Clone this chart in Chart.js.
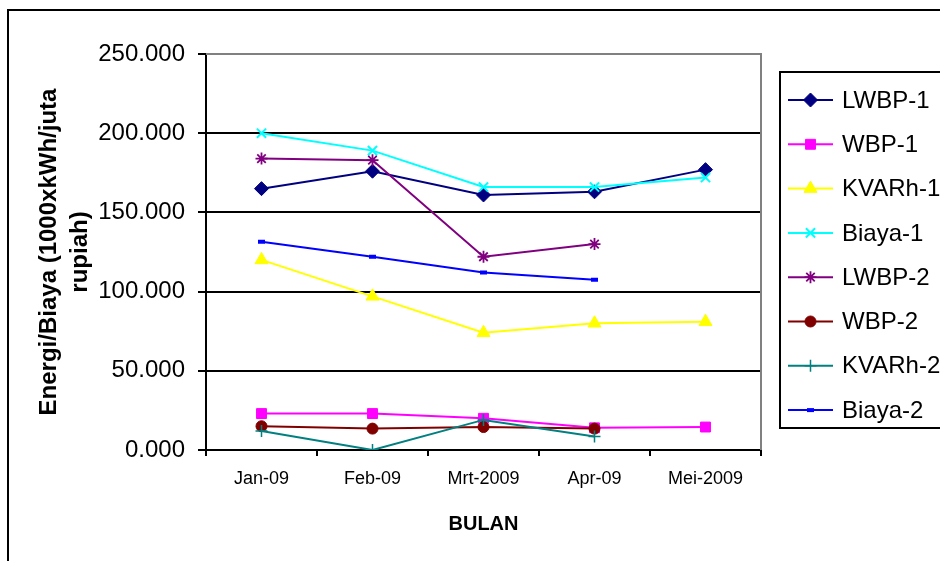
<!DOCTYPE html>
<html>
<head>
<meta charset="utf-8">
<title>Energi/Biaya per Bulan</title>
<script src="https://cdn.jsdelivr.net/npm/chart.js@4/dist/chart.umd.min.js"></script>
<style>
  html, body { margin: 0; padding: 0; background: #fff; }
  canvas { display: block; }
</style>
</head>
<body>
<canvas id="chart" width="940" height="561"></canvas>
<script>
// Months on the horizontal axis
const months = ['Jan-09', 'Feb-09', 'Mrt-2009', 'Apr-09', 'Mei-2009'];

// Series values (1000 x kWh / juta rupiah)
const lwbp1  = [165, 176, 161, 163, 177];
const wbp1   = [23, 23, 20, 14, 14.5];
const kvarh1 = [120, 97, 74, 80, 81];
const biaya1 = [200, 189, 166, 166, 172];
const lwbp2  = [184, 183, 122, 130, null];
const wbp2   = [15, 13.5, 14.5, 13.5, null];
const kvarh2 = [12, 0, 19, 8.5, null];
const biaya2 = [131.5, 122, 112, 107.5, null];

// Value axis ticks
const yTicks = [0, 50, 100, 150, 200, 250];

const FONT = "'Liberation Sans', Arial, Helvetica, sans-serif";

function series(label, data, color, style, radius, pw) {
  return {
    label, data,
    borderColor: color,
    backgroundColor: color,
    borderWidth: 2,
    tension: 0,
    pointStyle: style,
    pointRadius: radius,
    pointHoverRadius: radius,
    pointBackgroundColor: color,
    pointBorderColor: color,
    pointBorderWidth: pw
  };
}

const datasets = [
  series('LWBP-1',  lwbp1,  '#000080', 'rectRot',  7,   1),
  series('WBP-1',   wbp1,   '#FF00FF', 'rect',     7,   1),
  series('KVARh-1', kvarh1, '#FFFF00', 'triangle', 7.5, 1),
  series('Biaya-1', biaya1, '#00FFFF', 'crossRot', 6.5, 2),
  series('LWBP-2',  lwbp2,  '#800080', 'star',     6,   1.8),
  series('WBP-2',   wbp2,   '#800000', 'circle',   5.5, 1),
  series('KVARh-2', kvarh2, '#008080', 'cross',    6,   1.5),
  series('Biaya-2', biaya2, '#0000FF', 'line',     3.5, 4)
];
// later series are painted over earlier ones
datasets.forEach((d, i) => { d.order = datasets.length - 1 - i; });

// Outer frame, plot frame and the boxed legend
const decorations = {
  id: 'decorations',
  beforeDraw(chart) {
    const ctx = chart.ctx;
    ctx.save();
    ctx.fillStyle = '#fff';
    ctx.fillRect(0, 0, chart.width, chart.height);
    ctx.strokeStyle = '#000';
    ctx.lineWidth = 2;
    ctx.beginPath();
    ctx.moveTo(8, chart.height + 2);
    ctx.lineTo(8, 10);
    ctx.lineTo(chart.width + 2, 10);
    ctx.stroke();
    ctx.restore();
  },
  beforeDatasetsDraw(chart) {
    const { ctx, chartArea: a } = chart;
    ctx.save();
    ctx.strokeStyle = '#808080';
    ctx.lineWidth = 2;
    ctx.beginPath();
    ctx.moveTo(a.left, a.top);
    ctx.lineTo(a.right, a.top);
    ctx.lineTo(a.right, a.bottom);
    ctx.stroke();
    ctx.restore();
  },
  afterDraw(chart) {
    const ctx = chart.ctx;
    const bx = 780, by = 72, bw = 200, bh = 356;
    ctx.save();
    ctx.fillStyle = '#fff';
    ctx.fillRect(bx, by, bw, bh);
    ctx.strokeStyle = '#000';
    ctx.lineWidth = 2;
    ctx.strokeRect(bx, by, bw, bh);
    const sets = chart.data.datasets;
    const step = 44.3;
    sets.forEach((ds, i) => {
      const y = 100 + i * step;
      ctx.strokeStyle = ds.borderColor;
      ctx.lineWidth = 2;
      ctx.beginPath();
      ctx.moveTo(788, y);
      ctx.lineTo(833, y);
      ctx.stroke();
      ctx.fillStyle = ds.pointBackgroundColor;
      ctx.strokeStyle = ds.pointBorderColor;
      ctx.lineWidth = ds.pointBorderWidth;
      Chart.helpers.drawPoint(ctx, {
        pointStyle: ds.pointStyle,
        radius: ds.pointRadius,
        rotation: 0,
        borderWidth: ds.pointBorderWidth
      }, 810.5, y);
      ctx.fillStyle = '#000';
      ctx.font = '24px ' + FONT;
      ctx.textBaseline = 'middle';
      ctx.textAlign = 'left';
      ctx.fillText(ds.label, 842, y + 1);
    });
    ctx.restore();
  }
};

new Chart(document.getElementById('chart'), {
  type: 'line',
  data: { labels: months, datasets },
  plugins: [decorations],
  options: {
    responsive: false,
    animation: false,
    devicePixelRatio: 1,
    layout: { padding: { top: 54, right: 179, bottom: 0, left: 0 } },
    plugins: {
      legend: { display: false },
      tooltip: { enabled: false },
      title: { display: false }
    },
    scales: {
      x: {
        type: 'category',
        offset: true,
        afterFit(s) { s.height = 111; },
        grid: {
          offset: true,
          drawOnChartArea: false,
          drawTicks: true,
          tickLength: 6,
          color: '#000',
          tickColor: '#000',
          lineWidth: 2
        },
        border: { display: true, color: '#000', width: 2 },
        ticks: {
          color: '#000',
          padding: 12,
          maxRotation: 0,
          font: { family: FONT, size: 18 }
        },
        title: {
          display: true,
          text: 'BULAN',
          color: '#000',
          font: { family: FONT, size: 20, weight: 'bold' },
          padding: { top: 0, bottom: 25 }
        }
      },
      y: {
        min: 0,
        max: 250,
        afterFit(s) { s.width = 206; },
        afterBuildTicks(s) { s.ticks = yTicks.map(v => ({ value: v })); },
        grid: {
          drawTicks: true,
          tickLength: 8,
          lineWidth: 2,
          color: (c) => (c.tick && c.tick.value === 250) ? '#808080' : '#000',
          tickColor: '#000'
        },
        border: { display: true, color: '#000', width: 2 },
        ticks: {
          color: '#000',
          padding: 13,
          font: { family: FONT, size: 24 },
          callback: (v) => Number(v).toFixed(3)
        },
        title: {
          display: true,
          text: ['Energi/Biaya (1000xkWh/juta', 'rupiah)'],
          color: '#000',
          font: { family: FONT, size: 24, weight: 'bold', lineHeight: 1.3 },
          padding: { top: 34, bottom: 0 }
        }
      }
    }
  }
});
</script>
</body>
</html>
